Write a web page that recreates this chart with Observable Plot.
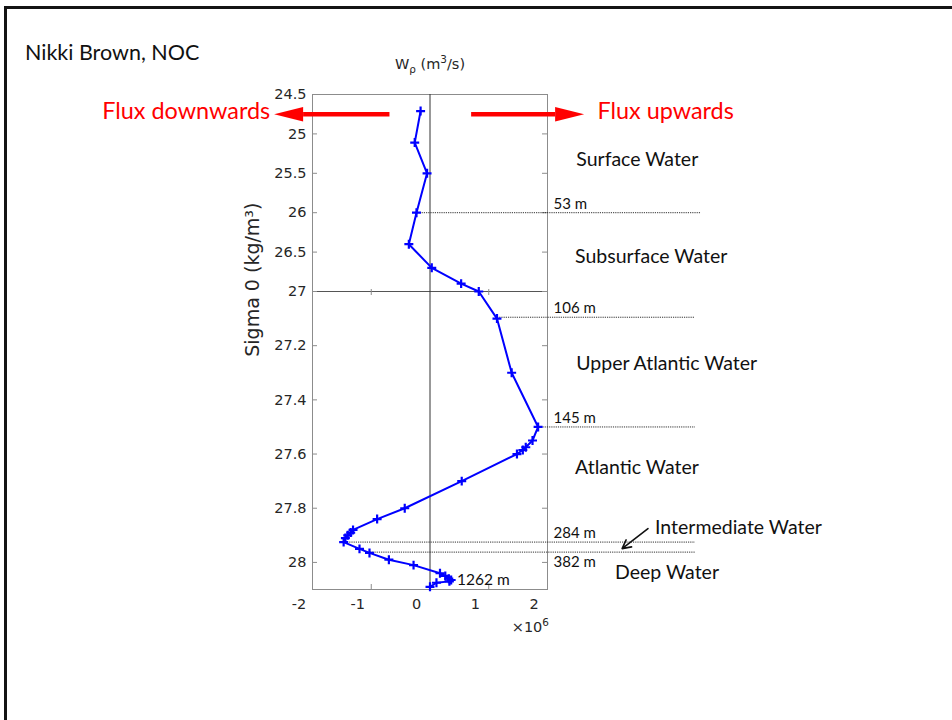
<!DOCTYPE html>
<html><head><meta charset="utf-8">
<script src="https://cdn.jsdelivr.net/npm/d3@7"></script>
<script src="https://cdn.jsdelivr.net/npm/@observablehq/plot@0.6"></script>
<style>
body{margin:0;background:#fff;}
#wrap{position:relative;width:952px;height:720px;overflow:hidden;background:#fff;}
#wrap svg{position:absolute;left:0;top:0;}
.ov{position:absolute;white-space:nowrap;line-height:1;}
</style></head><body><div id="wrap"></div>
<script>
// Diapycnal volume flux W_rho (x10^6 m^3/s) against potential density sigma_0 (kg/m^3)
const sigma = [24.71, 25.11, 25.50, 26.00, 26.40, 26.70, 26.90, 27.00, 27.10, 27.30,
  27.50, 27.55, 27.575, 27.585, 27.60, 27.70, 27.80, 27.84, 27.88, 27.89,
  27.90, 27.91, 27.925, 27.95, 27.965, 27.99, 28.01, 28.04, 28.05, 28.06,
  28.065, 28.07, 28.075, 28.09];
const wRho = [-0.16, -0.26, -0.05, -0.23, -0.36, 0.03, 0.53, 0.83, 1.14, 1.39,
  1.84, 1.745, 1.63, 1.58, 1.48, 0.54, -0.43, -0.90, -1.31, -1.35,
  -1.40, -1.44, -1.47, -1.20, -1.03, -0.70, -0.28, 0.17, 0.26, 0.32,
  0.36, 0.33, 0.11, 0.00];

const xTicks = [-2, -1, 0, 1, 2];
const yTicksUpper = [24.5, 25, 25.5, 26, 26.5, 27];
const yTicksLower = [27.2, 27.4, 27.6, 27.8, 28];
// the sigma axis is stretched below 27 (two stacked panels)
const ySections = [24.5, 27, 28.1];
const ySectionShare = [197, 298];

// water-mass boundaries (depth labels)
const boundaryLabel = ["53 m", "106 m", "145 m", "284 m", "382 m"];
const boundarySigma = [26.0, 27.095, 27.5, 27.925, 27.962];
const boundaryFromW = [-0.18, 1.14, 1.84, -1.45, -1.02];
const boundaryToW = [4.6, 4.51, 4.51, 4.51, 4.51];
const boundaryBelow = [false, false, false, false, true];

// water-mass names
const massName = ["Surface Water", "Subsurface Water", "Upper Atlantic Water", "Atlantic Water", "Intermediate Water", "Deep Water"];
const massSigma = [25.325, 26.556, 27.266, 27.65, 27.871, 28.037];
const massW = [2.49, 2.47, 2.49, 2.47, 3.83, 3.15];

// flux direction arrows
const fluxLabel = ["Flux downwards", "Flux upwards"];
const fluxLabelW = [-2.72, 2.85];
const fluxShaftFrom = [-0.69, 0.70];
const fluxShaftTo = [-2.16, 2.13];
const fluxDir = [180, 0];
const fluxSigma = 24.75;
const fluxLabelSigma = 24.72;

const profile = sigma.map((s, i) => ({sigma: s, w: wRho[i]}));
const bounds = boundaryLabel.map((l, i) => ({label: l, sigma: boundarySigma[i], w1: boundaryFromW[i], w2: boundaryToW[i], below: boundaryBelow[i]}));
const masses = massName.map((n, i) => ({name: n, sigma: massSigma[i], w: massW[i]}));
const flux = fluxLabel.map((l, i) => ({label: l, lw: fluxLabelW[i], w1: fluxShaftFrom[i], w2: fluxShaftTo[i], rot: fluxDir[i], sigma: fluxSigma, lsigma: fluxLabelSigma}));
const allYTicks = yTicksUpper.concat(yTicksLower);

const [s0, s1, s2] = ySections;
const [h1, h2] = ySectionShare;
const stretch = s => s <= s1 ? (s - s0) / (s1 - s0) * h1 : h1 + (s - s1) / (s2 - s1) * h2;

const headSymbol = {draw(ctx) { ctx.moveTo(0, -7.3); ctx.lineTo(29, 0); ctx.lineTo(0, 7.3); ctx.closePath(); }};

const annFont = "Lato, 'Noto Sans', sans-serif";
const frameGray = "#8c8c8c";

const chart = Plot.plot({
  width: 952, height: 720,
  marginLeft: 312, marginRight: 405, marginTop: 94, marginBottom: 131,
  style: {fontFamily: "'DejaVu Sans', sans-serif", fontSize: "14.5px", color: "#262626", background: "transparent"},
  x: {domain: [-2, 2], label: null},
  y: {transform: stretch, domain: [stretch(s0), stretch(s2)], reverse: true, label: null, axis: null},
  marks: [
    Plot.frame({stroke: frameGray}),
    Plot.ruleY([s1], {stroke: "#555"}),
    Plot.ruleX([0], {stroke: "#333"}),
    // inward ticks (left, right, bottom, section boundary)
    Plot.ruleY(allYTicks, {y: d => d, x1: -2, x2: -2, insetRight: -5, stroke: frameGray}),
    Plot.ruleY(allYTicks, {y: d => d, x1: 2, x2: 2, insetLeft: -5, stroke: frameGray}),
    Plot.ruleX(xTicks, {x: d => d, y1: s2, y2: s2, insetTop: -5, stroke: frameGray}),
    Plot.ruleX([-1, 1], {x: d => d, y1: s1, y2: s1, insetTop: -2, insetBottom: -4, stroke: frameGray}),
    // tick labels
    Plot.text(allYTicks, {x: -2, y: d => d, text: d => String(d), dx: -6, textAnchor: "end", fill: "#262626"}),
    Plot.axisX({ticks: xTicks, tickSize: 0, tickPadding: 9, dx: -13.5, tickFormat: d => d < 0 ? "-" + Math.abs(d) : String(d), label: null, fill: "#262626"}),
    Plot.text(["Sigma 0 (kg/m³)"], {x: -2, y: 26.85, dx: -60, rotate: -90, fontSize: 19, fill: "#262626"}),
    // boundaries
    Plot.link(bounds, {x1: "w1", x2: "w2", y1: "sigma", y2: "sigma", stroke: "#1a1a1a", strokeWidth: 0.9, strokeDasharray: "1.2,1"}),
    Plot.text(bounds.filter(d => !d.below), {x: 2, y: "sigma", text: "label", dx: 6, dy: -9, textAnchor: "start", fontFamily: annFont, fontSize: 15, fill: "#111"}),
    Plot.text(bounds.filter(d => d.below), {x: 2, y: "sigma", text: "label", dx: 6, dy: 10, textAnchor: "start", fontFamily: annFont, fontSize: 15, fill: "#111"}),
    Plot.text(masses, {x: "w", y: "sigma", text: "name", textAnchor: "start", fontFamily: annFont, fontSize: 19.5, fill: "#111"}),
    Plot.arrow([{w1: 3.71, s1: 27.875, w2: 3.27, s2: 27.949}], {x1: "w1", y1: "s1", x2: "w2", y2: "s2", stroke: "#111", strokeWidth: 1.6, headLength: 9, headAngle: 55}),
    // flux arrows
    Plot.link(flux, {x1: "w1", x2: "w2", y1: "sigma", y2: "sigma", stroke: "#ff0000", strokeWidth: 4.5}),
    Plot.dot(flux, {x: "w2", y: "sigma", symbol: headSymbol, rotate: "rot", fill: "#ff0000", stroke: "none", r: 5}),
    Plot.text(flux.filter(d => d.rot === 180), {x: "lw", y: "lsigma", text: "label", textAnchor: "end", fontFamily: annFont, fontSize: 23.4, fill: "#ff0000"}),
    Plot.text(flux.filter(d => d.rot !== 180), {x: "lw", y: "lsigma", text: "label", textAnchor: "start", fontFamily: annFont, fontSize: 23.4, fill: "#ff0000"}),
    // profile
    Plot.line(profile, {x: "w", y: "sigma", stroke: "#0000ff", strokeWidth: 2}),
    Plot.dot(profile, {x: "w", y: "sigma", symbol: "plus", r: 3, stroke: "#0000ff", strokeWidth: 2.2}),
    Plot.text([{w: 0.46, s: 28.066, t: "1262 m"}], {x: "w", y: "s", text: "t", textAnchor: "start", fontFamily: annFont, fontSize: 15.5, fill: "#111"})
  ]
});

const wrap = document.getElementById("wrap");
wrap.appendChild(chart);

const border = document.createElement("div");
border.style.cssText = "position:absolute;left:4px;top:6px;width:1000px;height:800px;border-left:3px solid #141414;border-top:3px solid #141414;";
wrap.appendChild(border);

const author = document.createElement("div");
author.className = "ov";
author.style.cssText += "left:25px;top:42px;font-family:Lato,sans-serif;font-size:21.5px;color:#111;";
author.textContent = "Nikki Brown, NOC";
wrap.appendChild(author);

const title = document.createElement("div");
title.className = "ov";
title.style.cssText += "left:430px;top:57px;transform:translateX(-50%);font-family:'DejaVu Sans',sans-serif;font-size:14.5px;color:#262626;";
title.innerHTML = 'W<span style="font-size:72%;position:relative;top:0.4em">ρ</span> (m<span style="font-size:72%;position:relative;top:-0.55em">3</span>/s)';
wrap.appendChild(title);

const mult = document.createElement("div");
mult.className = "ov";
mult.style.cssText += "left:549px;top:620px;transform:translateX(-100%);font-family:'DejaVu Sans',sans-serif;font-size:14.5px;color:#262626;";
mult.innerHTML = '×10<span style="font-size:72%;position:relative;top:-0.6em">6</span>';
wrap.appendChild(mult);
</script></body></html>
